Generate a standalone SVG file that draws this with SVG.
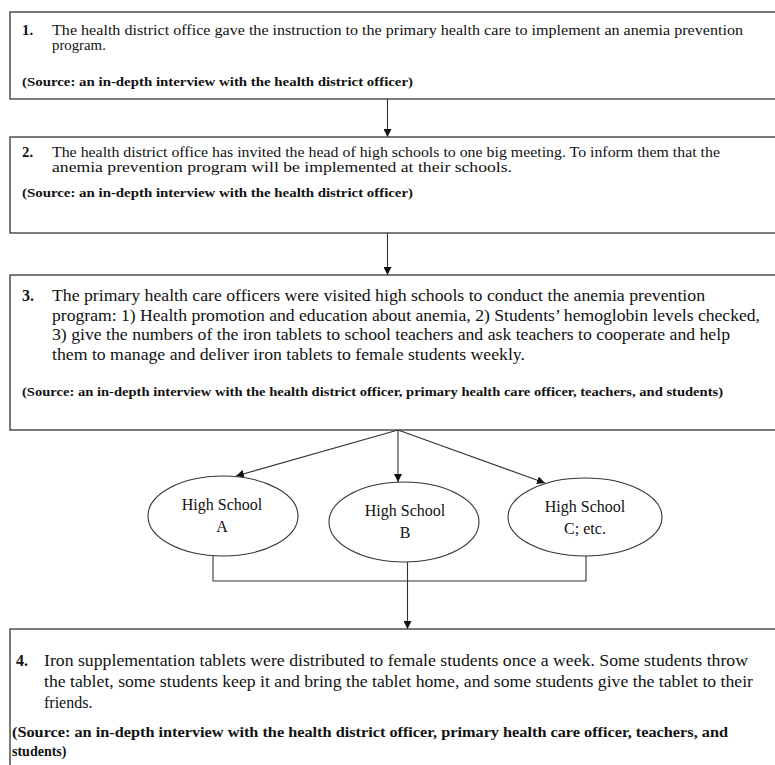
<svg xmlns="http://www.w3.org/2000/svg" width="775" height="765" viewBox="0 0 775 765">
<style>
.box{fill:#fff;stroke:#333;stroke-width:1.3}
.t{font-family:"Liberation Serif","Times New Roman",serif;fill:#111}
.s14{font-size:14.8px}
.s16{font-size:16px}
.b{font-family:"Liberation Serif","Times New Roman",serif;font-weight:bold;font-size:12.5px;fill:#111}
.b14{font-size:14px}
.ell{fill:#fff;stroke:#333;stroke-width:1.1}
.c{fill:none;stroke:#333;stroke-width:1.1}
</style>
<defs>
<marker id="ah" viewBox="0 0 10 10" refX="10" refY="5" markerWidth="8" markerHeight="8" markerUnits="userSpaceOnUse" orient="auto">
<path d="M0,0 L10,5 L0,10 z" fill="#111"/>
</marker>
</defs>
<g id="connectors">
<line class="c" x1="387.5" y1="99" x2="387.5" y2="137" marker-end="url(#ah)"/>
<line class="c" x1="387.5" y1="233" x2="387.5" y2="275" marker-end="url(#ah)"/>
<line class="c" x1="398" y1="430" x2="236" y2="476" marker-end="url(#ah)"/>
<line class="c" x1="398" y1="430" x2="398" y2="482" marker-end="url(#ah)"/>
<line class="c" x1="398" y1="430" x2="545" y2="483" marker-end="url(#ah)"/>
<polyline class="c" points="213,556 213,581 586,581 586,556"/>
<line class="c" x1="407.5" y1="562" x2="407.5" y2="629" marker-end="url(#ah)"/>
</g>
<g id="box1">
<rect class="box" x="10" y="12" width="800" height="87"/>
<text class="t s14" x="22" y="35" font-weight="bold">1.</text>
<text class="t s14" x="52" y="35" textLength="691" lengthAdjust="spacingAndGlyphs">The health district office gave the instruction to the primary health care to implement an anemia prevention</text>
<text class="t s14" x="52" y="50">program.</text>
<text class="b" x="22" y="86" textLength="391" lengthAdjust="spacingAndGlyphs">(Source: an in-depth interview with the health district officer)</text>
</g>
<g id="box2">
<rect class="box" x="10" y="137" width="800" height="96"/>
<text class="t s14" x="22" y="157" font-weight="bold">2.</text>
<text class="t s14" x="52" y="157" textLength="668" lengthAdjust="spacingAndGlyphs">The health district office has invited the head of high schools to one big meeting. To inform them that the</text>
<text class="t s14" x="52" y="172" textLength="460" lengthAdjust="spacingAndGlyphs">anemia prevention program will be implemented at their schools.</text>
<text class="b" x="22" y="197" textLength="391" lengthAdjust="spacingAndGlyphs">(Source: an in-depth interview with the health district officer)</text>
</g>
<g id="box3">
<rect class="box" x="10" y="275" width="800" height="155"/>
<text class="t s16" x="22" y="301" font-weight="bold">3.</text>
<text class="t s16" x="52" y="301" textLength="653" lengthAdjust="spacingAndGlyphs">The primary health care officers were visited high schools to conduct the anemia prevention</text>
<text class="t s16" x="52" y="320.5" textLength="708" lengthAdjust="spacingAndGlyphs">program: 1) Health promotion and education about anemia, 2) Students’ hemoglobin levels checked,</text>
<text class="t s16" x="52" y="340" textLength="678" lengthAdjust="spacingAndGlyphs">3) give the numbers of the iron tablets to school teachers and ask teachers to cooperate and help</text>
<text class="t s16" x="52" y="359.5" textLength="473" lengthAdjust="spacingAndGlyphs">them to manage and deliver iron tablets to female students weekly.</text>
<text class="b" x="22" y="396" textLength="701" lengthAdjust="spacingAndGlyphs">(Source: an in-depth interview with the health district officer, primary health care officer, teachers, and students)</text>
</g>
<g id="schoolA">
<ellipse class="ell" cx="223" cy="516" rx="75" ry="40"/>
<text class="t s16" x="222" y="510" text-anchor="middle">High School</text>
<text class="t s16" x="222" y="532" text-anchor="middle">A</text>
</g>
<g id="schoolB">
<ellipse class="ell" cx="404" cy="522" rx="75" ry="40"/>
<text class="t s16" x="405" y="516" text-anchor="middle">High School</text>
<text class="t s16" x="405" y="538" text-anchor="middle">B</text>
</g>
<g id="schoolC">
<ellipse class="ell" cx="585" cy="517" rx="77" ry="39"/>
<text class="t s16" x="585" y="512" text-anchor="middle">High School</text>
<text class="t s16" x="585" y="534" text-anchor="middle">C; etc.</text>
</g>
<g id="box4">
<rect class="box" x="10" y="629" width="800" height="200"/>
<text class="t s16" x="16" y="666" font-weight="bold">4.</text>
<text class="t s16" x="44" y="666" textLength="704" lengthAdjust="spacingAndGlyphs">Iron supplementation tablets were distributed to female students once a week. Some students throw</text>
<text class="t s16" x="44" y="687" textLength="709" lengthAdjust="spacingAndGlyphs">the tablet, some students keep it and bring the tablet home, and some students give the tablet to their</text>
<text class="t s16" x="44" y="708">friends.</text>
<text class="b b14" x="12" y="737" textLength="716" lengthAdjust="spacingAndGlyphs">(Source: an in-depth interview with the health district officer, primary health care officer, teachers, and</text>
<text class="b b14" x="12" y="756">students)</text>
</g>
</svg>
